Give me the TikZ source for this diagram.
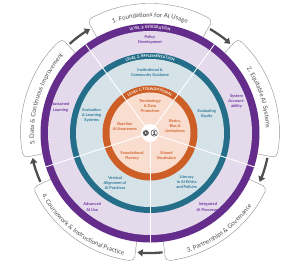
\documentclass[tikz,border=0pt]{standalone}
\usepackage{fontspec}
\setmainfont{Lato}
\usetikzlibrary{arrows.meta,decorations.text}

% Colores de los niveles
\definecolor{morado}{RGB}{100,45,140}
\definecolor{lila}{RGB}{228,218,236}
\definecolor{moradotxt}{RGB}{112,50,160}
\definecolor{azul}{RGB}{36,110,138}
\definecolor{celeste}{RGB}{213,227,233}
\definecolor{azultxt}{RGB}{42,118,150}
\definecolor{naranja}{RGB}{205,95,38}
\definecolor{durazno}{RGB}{249,222,208}
\definecolor{naranjatxt}{RGB}{210,98,42}
\definecolor{grisborde}{RGB}{150,150,150}
\definecolor{gristxt}{RGB}{75,75,75}
\definecolor{flechagris}{RGB}{78,78,78}

\newcommand{\tabfont}{\fontsize{7}{8}\selectfont}
\newcommand{\ringfont}{\fontsize{4.2}{5}\selectfont\bfseries}

\begin{document}
\begin{tikzpicture}[
    x=0.04cm, y=0.04cm,
    tabbox/.style={draw=grisborde, line width=0.5pt, fill=white, rounded corners=5pt},
    flecha/.style={draw=flechagris, line width=2.6pt, -{Triangle[length=6pt, width=8pt]}},
    divisor/.style={draw=white, line width=1pt},
    texto/.style={align=center, inner sep=0pt, font=\fontsize{4.5}{5.8}\selectfont\bfseries},
    curvo/.style={decorate, decoration={text along path, text align=center}}
]

% Marco de la imagen
\useasboundingbox (-150,-133) rectangle (150,133);

% Pestañas exteriores y flechas entre ellas
\foreach \k in {0,...,4} {
    \pgfmathsetmacro{\ang}{90-72*\k}
    \draw[tabbox] ({\ang-29}:104) arc[start angle=\ang-29, end angle=\ang+29, radius=104]
        -- ({\ang+29}:129) arc[start angle=\ang+29, end angle=\ang-29, radius=129] -- cycle;
    \coordinate (f\k) at ({\ang-30}:120);
    \draw[flecha] (f\k) arc[start angle=\ang-30, end angle=\ang-42, radius=120];
}

% Textos de las pestañas
\path[curvo, decoration={text color=gristxt, text={|\tabfont|1. Foundations for AI Usage}}]
    (125:116) arc[start angle=125, end angle=55, radius=116];
\path[curvo, decoration={text color=gristxt, text={|\tabfont|2. Equitable AI Systems}}]
    (50:116) arc[start angle=50, end angle=-14, radius=116];
\path[curvo, decoration={text color=gristxt, text={|\tabfont|3. Partnerships {\&} Governance}}]
    (-86:125) arc[start angle=-86, end angle=-22, radius=125];
\path[curvo, decoration={text color=gristxt, text={|\tabfont|4. Coursework {\&} Instructional Practice}}]
    (202:125) arc[start angle=202, end angle=266, radius=125];
\path[curvo, decoration={text color=gristxt, text={|\tabfont|5. Data {\&} Continuous Improvement}}]
    (194:116) arc[start angle=194, end angle=130, radius=116];

% Anillos de los tres niveles
\fill[morado] (0,0) circle (109.5);
\fill[lila] (0,0) circle (102);
\fill[azul] (0,0) circle (80);
\fill[celeste] (0,0) circle (74);
\fill[naranja] (0,0) circle (47.5);
\fill[durazno] (0,0) circle (40.5);

% Líneas divisorias
\coordinate (o) at (0,0);
\foreach \k in {0,...,4} {
    \coordinate (d\k) at ({-90+72*\k}:109.5);
    \draw[divisor] (o) -- (d\k);
}

% Nombres de los niveles sobre los anillos
\path[curvo, decoration={text color=white, text={|\ringfont|LEVEL 3: INTEGRATION}}]
    (130:104.3) arc[start angle=130, end angle=50, radius=104.3];
\path[curvo, decoration={text color=white, text={|\ringfont|LEVEL 2: IMPLEMENTATION}}]
    (140:75.6) arc[start angle=140, end angle=40, radius=75.6];
\path[curvo, decoration={text color=white, text={|\ringfont|LEVEL 1: FOUNDATIONAL}}]
    (150:42.6) arc[start angle=150, end angle=30, radius=42.6];

% Círculo central con iconos
\node[circle, fill=white, minimum size=0.72cm, inner sep=0pt] (centro) at (o) {};
\draw[flechagris, line width=1.2pt, dash pattern=on 0.9pt off 0.7pt] (-4.2,0) circle (2.6);
\fill[flechagris] (-4.2,0) circle (2.1);
\fill[white] (-4.2,0) circle (0.9);
\draw[flechagris, line width=0.6pt] (4.2,0) circle (3.2);
\fill[flechagris] (4.2,1) circle (1.1);
\fill[flechagris] (2.3,-2) arc[start angle=180, end angle=0, radius=1.9] -- cycle;

% Nivel 1
\node[texto, text=naranjatxt] (n1-0) at (90:27) {Terminology\\ \& Data\\ Protection};
\node[texto, text=naranjatxt] (n1-1) at (15:26) {Basics,\\ Bias \&\\ Limitations};
\node[texto, text=naranjatxt] (n1-2) at (-54:28) {Shared\\ Vocabulary};
\node[texto, text=naranjatxt] (n1-3) at (-128:29) {Foundational\\ Fluency};
\node[texto, text=naranjatxt] (n1-4) at (166:26) {Baseline\\ AI Awareness};

% Nivel 2
\node[texto, text=azultxt] (n2-0) at (90:60) {Institutional \&\\ Community Guidance};
\node[texto, text=azultxt] (n2-1) at (19:60) {Evaluating\\ Equity};
\node[texto, text=azultxt] (n2-2) at (-53:61) {Literacy\\ in AI Ethics\\ and Policies};
\node[texto, text=azultxt] (n2-3) at (-125:61) {Vertical\\ Alignment of\\ AI Practices};
\node[texto, text=azultxt] (n2-4) at (163:61) {Evaluation\\ \& Learning\\ Systems};

% Nivel 3
\node[texto, text=moradotxt] (n3-0) at (90:93) {Policy\\ Development};
\node[texto, text=moradotxt] (n3-1) at (20:92) {System\\ Account-\\ ability};
\node[texto, text=moradotxt] (n3-2) at (-52:94) {Integrated\\ AI Processes};
\node[texto, text=moradotxt] (n3-3) at (-128:94) {Advanced\\ AI Use};
\node[texto, text=moradotxt] (n3-4) at (164:93) {Sustained\\ Learning};
\end{tikzpicture}
\end{document}
